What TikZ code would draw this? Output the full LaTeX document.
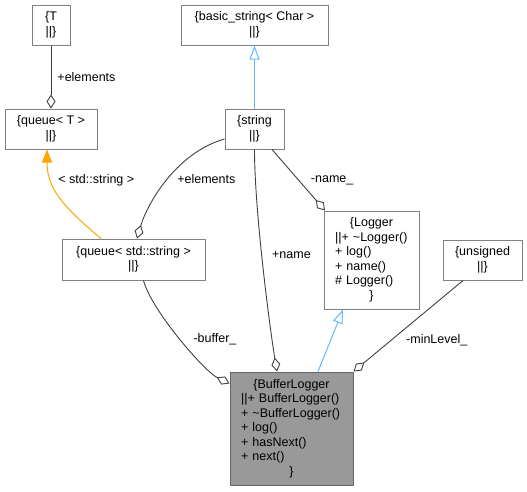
\documentclass[tikz,border=0pt]{standalone}
\usepackage{fontspec}
\setmainfont{Liberation Sans}
\usetikzlibrary{arrows.meta,positioning}
\setlength{\parindent}{0pt}
\definecolor{boxline}{HTML}{808080}
\definecolor{focusline}{HTML}{666666}
\definecolor{focusfill}{HTML}{999999}
\definecolor{edgegray}{HTML}{404040}
\definecolor{inheritblue}{HTML}{63B8FF}
\definecolor{tmplorange}{HTML}{FFA500}
\newcommand{\recmid}[1]{\makebox[\hsize]{#1}}
\newcommand{\bars}{\textbar\textbar}
\tikzset{
  cls/.style={draw=boxline, line width=1pt, fill=white, align=center,
              minimum height=40pt, inner sep=2pt},
  clsrec/.style={cls, align=left, inner xsep=11pt, inner ysep=3pt},
  aggr/.style={{Diamond[open, length=14pt, width=9pt]}-, draw=edgegray, line width=0.9pt},
  inherit/.style={-{Triangle[open, length=14pt, width=10pt]}, draw=inheritblue, line width=1pt},
  tmpl/.style={-{Triangle[length=13pt, width=10pt]}, draw=tmplorange, line width=1pt},
  lbl/.style={inner sep=0pt}
}

\begin{document}
\begin{tikzpicture}[x=1pt, y=-1pt, every node/.style={font=\fontsize{12.5}{14.5}\selectfont}]
  \useasboundingbox (0,0) rectangle (527,491);
  % templates and string types
  \node[cls, minimum width=38pt] (T) at (51,25) {\{T\\\bars\}};
  \node[cls, minimum width=147pt, right=110pt of T] (basicstr) {\{basic\_string< Char >\\\bars\}};
  \node[cls, minimum width=92pt, below=63pt of T] (queueT) {\{queue< T >\\\bars\}};
  \node[cls, minimum width=59pt, below=63pt of basicstr] (string) {\{string\\\bars\}};
  \node[cls, minimum width=143pt, minimum height=41pt] (queueStr) at (133.5,259.5)
       {\{queue< std::string >\\\bars\}};
  % loggers
  \node[clsrec, text width=73pt, minimum height=98pt] (logger) at (371.5,260)
       {\recmid{\{Logger}\\\bars+ \textasciitilde Logger()\\+ log()\\+ name()\\\# Logger()\\\recmid{\}}};
  \node[cls, minimum width=79pt, right=23pt of logger] (unsigned) {\{unsigned\\\bars\}};
  \node[clsrec, text width=101pt, minimum height=113pt, draw=focusline, fill=focusfill] (buflog)
       at (291.5,428.5)
       {\recmid{\{BufferLogger}\\\bars+ BufferLogger()\\+ \textasciitilde BufferLogger()\\+ log()\\+ hasNext()\\+ next()\\\recmid{\}}};
  % relations
  \draw[aggr] (queueT.north) -- node[lbl, right=6pt] {+elements} (T.south);
  \draw[inherit] (string.north) -- (basicstr.south);
  \draw[tmpl] ([xshift=-32.5pt]queueStr.north) .. controls +(-41,-34) and +(0,37) .. ([xshift=-4pt]queueT.south)
       node[lbl, pos=0.68, right=6.5pt] {< std::string >};
  \draw[aggr] ([xshift=3.5pt]queueStr.north) .. controls +(10,-34) and +(-49,14) .. ([yshift=-10pt]string.west)
       node[lbl, pos=0.52, right=9pt] {+elements};
  \draw[aggr] ([xshift=-14.5pt]buflog.north) .. controls +(-7,-42) and +(0,62) .. (string.south)
       node[lbl, pos=0.55, right=10pt] {+name};
  \draw[aggr] ([xshift=-46.5pt]logger.north) -- node[lbl, right=12pt] {-name\_} ([xshift=17.5pt]string.south);
  \draw[inherit] ([xshift=26.5pt]buflog.north) -- ([xshift=-28.5pt]logger.south);
  \draw[aggr] (buflog.north east) -- node[lbl, pos=0.34, right=15pt] {-minLevel\_} ([xshift=-19.5pt]unsigned.south);
  \draw[aggr] ([yshift=-12pt]buflog.north west) .. controls +(-25,-12) and +(8,30) .. ([xshift=10pt]queueStr.south)
       node[lbl, pos=0.5, right=13pt] {-buffer\_};
\end{tikzpicture}
\end{document}
